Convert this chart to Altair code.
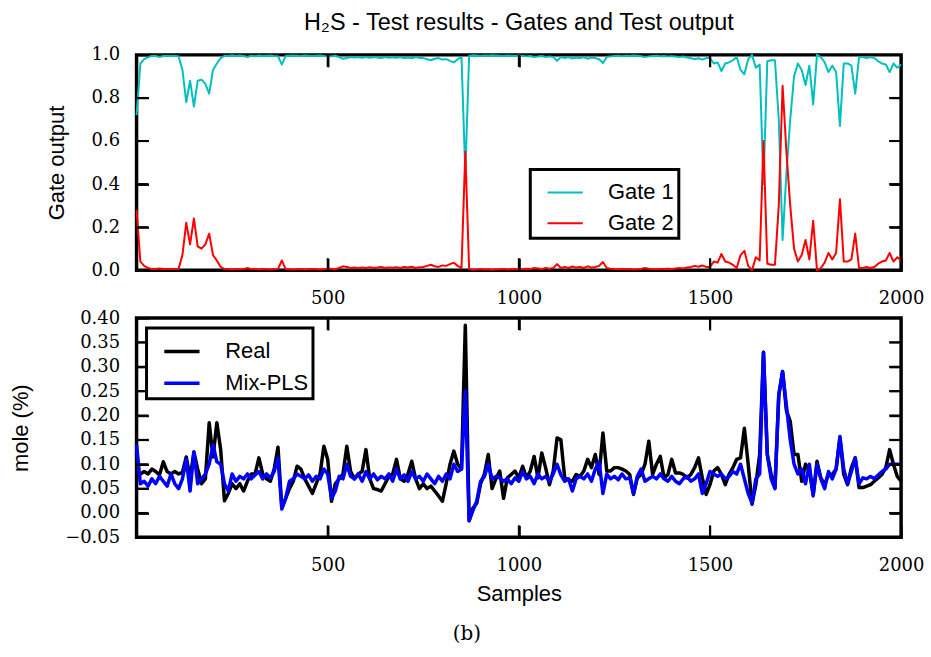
import altair as alt
import pandas as pd

samples = list(range(0, 2001, 10))

gate1 = [
    0.72, 0.96, 0.98, 0.99, 0.995, 0.995, 0.99, 0.995, 0.995, 0.995,
    0.995, 0.994, 0.93, 0.78, 0.88, 0.76, 0.88, 0.885, 0.865, 0.82,
    0.93, 0.96, 0.985, 0.995, 0.995, 0.998, 0.995, 0.997, 0.995, 0.99,
    0.996, 0.994, 0.997, 0.995, 0.996, 0.997, 0.995, 0.994, 0.955, 0.995,
    0.996, 0.997, 0.996, 0.995, 0.997, 0.996, 0.995, 0.996, 0.997, 0.995,
    0.994, 0.993, 0.996, 0.99, 0.982, 0.985, 0.99, 0.988, 0.99, 0.987,
    0.99, 0.986, 0.99, 0.988, 0.985, 0.99, 0.987, 0.989, 0.986, 0.99,
    0.985, 0.988, 0.984, 0.99, 0.986, 0.985, 0.98, 0.975, 0.982, 0.985,
    0.978, 0.98, 0.972, 0.965, 0.98, 0.99, 0.45, 0.995, 0.998, 0.997,
    0.995, 0.997, 0.996, 0.998, 0.997, 0.996, 0.995, 0.997, 0.996, 0.995,
    0.997, 0.995, 0.993, 0.995, 0.99, 0.992, 0.995, 0.99, 0.993, 0.99,
    0.972, 0.99, 0.985, 0.99, 0.983, 0.988, 0.985, 0.99, 0.982, 0.988,
    0.985, 0.98, 0.962, 0.99, 0.993, 0.995, 0.996, 0.994, 0.996, 0.995,
    0.997, 0.996, 0.994, 0.99, 0.993, 0.995, 0.996, 0.994, 0.995, 0.993,
    0.994, 0.992, 0.99, 0.992, 0.988, 0.985, 0.98, 0.984, 0.978, 0.985,
    0.985, 0.96, 0.965, 0.925, 0.96, 0.965, 0.975, 0.99, 0.93, 0.91,
    0.98, 1.0, 0.94, 0.955, 0.40, 0.97, 0.975, 0.975, 0.70, 0.14,
    0.45, 0.70, 0.90, 0.96, 0.93, 0.86, 0.95, 0.77, 1.0, 0.99,
    0.965, 0.92, 0.95, 0.92, 0.67, 0.96, 0.96, 0.95, 0.82, 0.99,
    0.99, 0.985, 0.99, 0.985, 0.97, 0.96, 0.955, 0.92, 0.96, 0.94,
    0.955,
]

gate2 = [
    0.28, 0.04, 0.02, 0.01, 0.005, 0.005, 0.008, 0.005, 0.005, 0.005,
    0.005, 0.006, 0.07, 0.22, 0.12, 0.24, 0.11, 0.10, 0.12, 0.17,
    0.07, 0.045, 0.015, 0.005, 0.005, 0.003, 0.005, 0.004, 0.005, 0.01,
    0.004, 0.006, 0.003, 0.005, 0.004, 0.003, 0.005, 0.006, 0.045, 0.005,
    0.004, 0.003, 0.004, 0.005, 0.003, 0.004, 0.005, 0.004, 0.003, 0.005,
    0.006, 0.007, 0.004, 0.01, 0.018, 0.015, 0.01, 0.012, 0.01, 0.013,
    0.01, 0.014, 0.01, 0.012, 0.015, 0.01, 0.013, 0.011, 0.014, 0.01,
    0.015, 0.012, 0.016, 0.01, 0.014, 0.015, 0.02, 0.025, 0.018, 0.015,
    0.022, 0.02, 0.028, 0.035, 0.02, 0.01, 0.55, 0.005, 0.002, 0.003,
    0.005, 0.003, 0.004, 0.002, 0.003, 0.004, 0.005, 0.003, 0.004, 0.005,
    0.003, 0.005, 0.007, 0.005, 0.01, 0.008, 0.005, 0.01, 0.007, 0.01,
    0.028, 0.01, 0.015, 0.01, 0.017, 0.012, 0.015, 0.01, 0.018, 0.012,
    0.015, 0.02, 0.038, 0.01, 0.007, 0.005, 0.004, 0.006, 0.004, 0.005,
    0.003, 0.004, 0.006, 0.01, 0.007, 0.005, 0.004, 0.006, 0.005, 0.007,
    0.006, 0.008, 0.01, 0.008, 0.012, 0.015, 0.02, 0.016, 0.022, 0.015,
    0.015, 0.04, 0.035, 0.075, 0.04, 0.035, 0.025, 0.01, 0.07, 0.09,
    0.02, 0.0, 0.06, 0.045, 0.60, 0.03, 0.025, 0.025, 0.30, 0.857,
    0.55, 0.30, 0.10, 0.04, 0.07, 0.14, 0.05, 0.23, 0.0, 0.01,
    0.035, 0.08, 0.05, 0.08, 0.33, 0.04, 0.04, 0.05, 0.17, 0.01,
    0.01, 0.015, 0.01, 0.015, 0.03, 0.04, 0.045, 0.08, 0.04, 0.06,
    0.045,
]

real = [
    0.086, 0.08, 0.085, 0.08, 0.09, 0.085, 0.078, 0.105, 0.085, 0.08,
    0.085, 0.08, 0.083, 0.115, 0.07, 0.125, 0.09, 0.06, 0.07, 0.185,
    0.115, 0.185, 0.13, 0.025, 0.04, 0.06, 0.05, 0.06, 0.045, 0.065,
    0.08, 0.08, 0.113, 0.08, 0.07, 0.065, 0.09, 0.135, 0.012, 0.03,
    0.05, 0.065, 0.096, 0.09, 0.07, 0.055, 0.04, 0.06, 0.08, 0.137,
    0.11, 0.024, 0.06, 0.07, 0.08, 0.137, 0.085, 0.07, 0.08, 0.085,
    0.13, 0.07, 0.05, 0.048, 0.045, 0.06, 0.075, 0.08, 0.11, 0.07,
    0.065, 0.08, 0.106, 0.07, 0.05, 0.06, 0.05, 0.055, 0.045, 0.035,
    0.024, 0.06, 0.10, 0.127, 0.10, 0.09, 0.385, -0.016, 0.01, 0.02,
    0.06, 0.08, 0.12, 0.05, 0.07, 0.086, 0.03, 0.072, 0.079, 0.086,
    0.072, 0.096, 0.072, 0.086, 0.116, 0.072, 0.123, 0.093, 0.058, 0.086,
    0.154, 0.15, 0.072, 0.068, 0.065, 0.079, 0.075, 0.086, 0.11, 0.093,
    0.12, 0.079, 0.164, 0.086, 0.086, 0.093, 0.093, 0.09, 0.086, 0.079,
    0.038, 0.072, 0.079, 0.1, 0.147, 0.079, 0.1, 0.116, 0.072, 0.079,
    0.11, 0.082, 0.082, 0.079, 0.072, 0.079, 0.093, 0.113, 0.072, 0.038,
    0.058, 0.086, 0.093, 0.079, 0.058, 0.079, 0.093, 0.11, 0.113, 0.174,
    0.1, 0.018, 0.058, 0.12, 0.33, 0.12, 0.079, 0.052, 0.242, 0.29,
    0.21, 0.188, 0.12, 0.12, 0.065, 0.1, 0.086, 0.038, 0.106, 0.072,
    0.058, 0.079, 0.079, 0.09, 0.154, 0.079, 0.058, 0.093, 0.113, 0.052,
    0.052, 0.055, 0.058, 0.065, 0.072, 0.079, 0.093, 0.13, 0.1, 0.075,
    0.065,
]

mixpls = [
    0.14, 0.06, 0.065, 0.055, 0.07, 0.06, 0.075, 0.065, 0.055, 0.08,
    0.06, 0.05, 0.07, 0.11, 0.045, 0.125, 0.06, 0.07, 0.08, 0.10,
    0.14, 0.105, 0.10, 0.06, 0.045, 0.08, 0.065, 0.075, 0.07, 0.08,
    0.07, 0.078, 0.085, 0.07, 0.08, 0.072, 0.085, 0.113, 0.008, 0.03,
    0.065, 0.07, 0.08, 0.075, 0.07, 0.078, 0.065, 0.075, 0.07, 0.09,
    0.08, 0.03, 0.045, 0.075, 0.07, 0.10, 0.075, 0.07, 0.08, 0.065,
    0.085, 0.07, 0.08, 0.068, 0.075, 0.07, 0.08, 0.065, 0.09, 0.07,
    0.078, 0.065, 0.085, 0.07, 0.075, 0.065, 0.08, 0.07, 0.06, 0.075,
    0.065, 0.08, 0.07, 0.10, 0.085, 0.09, 0.25, -0.016, 0.005, 0.025,
    0.065, 0.075, 0.10, 0.07, 0.075, 0.072, 0.065, 0.07, 0.06, 0.072,
    0.065, 0.085, 0.07, 0.075, 0.06, 0.08, 0.07, 0.075, 0.065, 0.08,
    0.10, 0.078, 0.065, 0.07, 0.045, 0.07, 0.075, 0.07, 0.08, 0.065,
    0.09, 0.105, 0.04, 0.08, 0.07, 0.075, 0.068, 0.08, 0.07, 0.072,
    0.04, 0.075, 0.09, 0.065, 0.07, 0.075, 0.07, 0.08, 0.07, 0.065,
    0.075, 0.065, 0.06, 0.07, 0.075, 0.065, 0.07, 0.08, 0.04, 0.06,
    0.085, 0.08, 0.075, 0.08, 0.07, 0.075, 0.085, 0.08, 0.10, 0.07,
    0.04, 0.02, 0.07, 0.08, 0.33, 0.12, 0.07, 0.05, 0.242, 0.29,
    0.22, 0.15, 0.10, 0.08, 0.09, 0.06, 0.10, 0.035, 0.10, 0.07,
    0.05, 0.085, 0.07, 0.09, 0.157, 0.09, 0.06, 0.085, 0.113, 0.06,
    0.072, 0.07, 0.075, 0.07, 0.078, 0.085, 0.09, 0.10, 0.10, 0.10,
    0.10,
]

x_ticks = [500, 1000, 1500, 2000]
x_inner_ticks = [500, 1000, 1500]
y1_ticks = [0.0, 0.2, 0.4, 0.6, 0.8, 1.0]
y1_inner_ticks = [0.2, 0.4, 0.6, 0.8]
y2_ticks = [-0.05, 0.0, 0.05, 0.10, 0.15, 0.20, 0.25, 0.30, 0.35, 0.40]
y2_inner_ticks = [0.0, 0.05, 0.10, 0.15, 0.20, 0.25, 0.30, 0.35]

gate_names = ["Gate 1", "Gate 2"]
gate_colors = ["#00bfbf", "#ff0000"]
out_names = ["Real", "Mix-PLS"]
out_colors = ["#000000", "#0000ff"]

W, H1, H2 = 767, 216, 220
TL = 12  # inward tick length
SERIF = "DejaVu Serif"
SANS = "Liberation Sans"
LABEL_FS = 18
TITLE_FS = 22

top_df = pd.DataFrame({"Samples": samples, "g1": gate1, "g2": gate2})
bot_df = pd.DataFrame({"Samples": samples, "real": real, "pls": mixpls})

xscale = alt.Scale(domain=[0, 2000], nice=False, zero=False)
y1scale = alt.Scale(domain=[0, 1], nice=False, zero=False)
y2scale = alt.Scale(domain=[-0.05, 0.40], nice=False, zero=False)

tick_style = dict(tickSize=TL, tickWidth=2, tickColor="black", offset=-TL,
                  domain=False, grid=False, zindex=1)


def x_axis(with_title):
    kw = dict(orient="bottom", values=x_ticks, format="d",
              labelFont=SERIF, labelFontSize=LABEL_FS, labelColor="black",
              labelPadding=19, labelFlush=False, **tick_style)
    if with_title:
        kw.update(title="Samples", titleFont=SANS, titleFontSize=TITLE_FS,
                  titleFontWeight="normal", titleColor="black",
                  titleX=W / 2, titleY=56 + TL, titleBaseline="middle")
    else:
        kw.update(title="")
    return alt.Axis(**kw)


def y_axis(title, values, fmt, title_x, h):
    return alt.Axis(orient="left", values=values, format=fmt,
                    labelFont=SERIF, labelFontSize=LABEL_FS, labelColor="black",
                    labelPadding=17, labelFlush=False,
                    title=title, titleFont=SANS, titleFontSize=TITLE_FS,
                    titleFontWeight="normal", titleColor="black",
                    titleX=title_x - TL, titleY=h / 2, titleAngle=270,
                    titleBaseline="middle", titleAlign="center", **tick_style)


def inner_axis(orient, values):
    return alt.Axis(orient=orient, values=values, labels=False, title="", **tick_style)


def legend(x, y, stroke_w):
    return alt.Legend(title=None, orient="none", legendX=x, legendY=y,
                      symbolType="stroke", symbolSize=1250,
                      symbolStrokeWidth=stroke_w, labelFont=SANS,
                      labelFontSize=TITLE_FS, labelColor="black",
                      labelOffset=24, strokeColor="black", fillColor="white",
                      padding=4, symbolOffset=12, rowPadding=1,
                      cornerRadius=0, zindex=2)


def tick_rules(yscale, yvals, h):
    xdf = pd.DataFrame({"tick": x_inner_ticks})
    ydf = pd.DataFrame({"tick": yvals})
    rule = dict(color="black", strokeWidth=2)
    return [
        alt.Chart(xdf).mark_rule(**rule).encode(
            x=alt.X("tick:Q", scale=xscale, axis=None), y=alt.value(h - TL), y2=alt.value(h)),
        alt.Chart(xdf).mark_rule(**rule).encode(
            x=alt.X("tick:Q", scale=xscale, axis=None), y=alt.value(0), y2=alt.value(TL)),
        alt.Chart(ydf).mark_rule(**rule).encode(
            y=alt.Y("tick:Q", scale=yscale, axis=None), x=alt.value(0), x2=alt.value(TL)),
        alt.Chart(ydf).mark_rule(**rule).encode(
            y=alt.Y("tick:Q", scale=yscale, axis=None), x=alt.value(W - TL), x2=alt.value(W)),
    ]


def panel(df, f1, s1, f2, s2, sw, names, colors, leg, yscale, xaxis, yaxis, yinner, h):
    cscale = alt.Scale(domain=names, range=colors)
    first = (alt.Chart(df).transform_calculate(series=f"'{s1}'")
             .mark_line(strokeWidth=sw, strokeJoin="round")
             .encode(x=alt.X("Samples:Q", scale=xscale, axis=xaxis),
                     y=alt.Y(f"{f1}:Q", scale=yscale, axis=yaxis),
                     color=alt.Color("series:N", scale=cscale, legend=leg)))
    second = (alt.Chart(df).transform_calculate(series=f"'{s2}'")
              .mark_line(strokeWidth=sw, strokeJoin="round")
              .encode(x=alt.X("Samples:Q", scale=xscale, axis=inner_axis("top", x_inner_ticks)),
                      y=alt.Y(f"{f2}:Q", scale=yscale, axis=inner_axis("right", yinner)),
                      color=alt.Color("series:N", scale=cscale, legend=leg)))
    return alt.layer(first, second, *tick_rules(yscale, yinner, h)).resolve_axis(
        x="independent", y="independent")


top = panel(top_df, "g1", "Gate 1", "g2", "Gate 2", 2, gate_names, gate_colors,
            legend(395, 115, 2), y1scale, x_axis(False),
            y_axis("Gate output", y1_ticks, ".1f", -80, H1), y1_inner_ticks, H1).properties(
    width=W, height=H1,
    title=alt.TitleParams("H₂S - Test results - Gates and Test output", font=SANS,
                          fontSize=23.5, fontWeight="normal", color="black",
                          anchor="middle", offset=11),
)

bottom = panel(bot_df, "real", "Real", "pls", "Mix-PLS", 3.5, out_names, out_colors,
               legend(10, 10, 3.5), y2scale, x_axis(True),
               y_axis("mole (%)", y2_ticks, ".2f", -116, H2), y2_inner_ticks, H2).properties(
    width=W, height=H2)

chart = alt.vconcat(
    top, bottom, spacing=-2,
    title=alt.TitleParams("(b)", orient="bottom", font=SERIF, fontSize=20,
                          fontWeight="normal", color="black", anchor="middle",
                          offset=18),
).resolve_scale(color="independent").properties(
    padding={"left": 8, "top": 8, "right": 5, "bottom": 5},
    background="white",
).configure_view(stroke="black", strokeWidth=3.5).configure_legend(strokeWidth=3)

chart.save("out.html", embed_options={"renderer": "svg", "actions": False})
